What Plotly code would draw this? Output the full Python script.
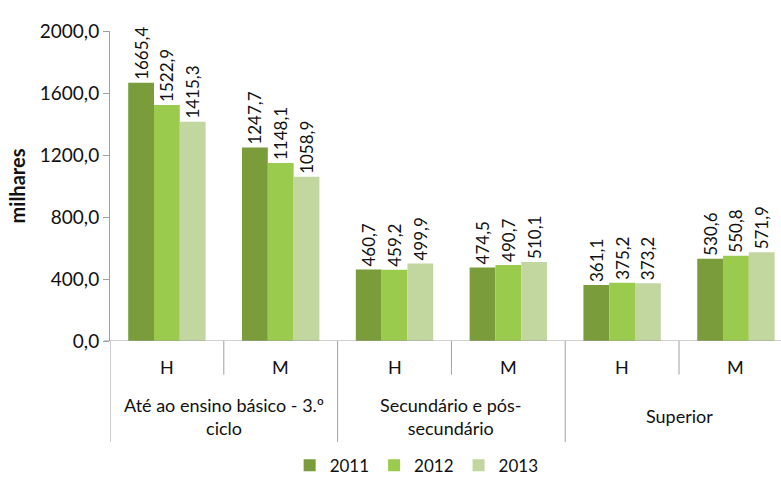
import plotly.graph_objects as go

categories = ["H", "M", "H", "M", "H", "M"]
groups = ["Até ao ensino básico - 3.º<br>ciclo", "Secundário e pós-<br>secundário", "Superior"]
years = ["2011", "2012", "2013"]
v2011 = [1665.4, 1247.7, 460.7, 474.5, 361.1, 530.6]
v2012 = [1522.9, 1148.1, 459.2, 490.7, 375.2, 550.8]
v2013 = [1415.3, 1058.9, 499.9, 510.1, 373.2, 571.9]
series = [v2011, v2012, v2013]
colors = ["#7a9c3b", "#9acb4c", "#c2d6a0"]
yticks = [0, 400, 800, 1200, 1600, 2000]

FONT = "Lato, Carlito, 'Liberation Sans', sans-serif"
x = list(range(len(categories)))

fig = go.Figure()
for name, vals, col in zip(years, series, colors):
    fig.add_trace(go.Bar(
        x=x, y=vals, name=name, marker=dict(color=col, line=dict(width=0)),
        texttemplate="%{y:.1f}", textposition="outside", textangle=-90,
        constraintext="none",
        textfont=dict(size=17, color="#111111", family=FONT), cliponaxis=False,
    ))

# paper-y helpers (plot: top 30.7px, bottom 344px)
H = 313.3
def py(px):
    return (344 - px) / H

shapes = []
line_col = "#a0a0a0"
for i in range(len(categories) + 1):
    xb = i - 0.5
    long = (i % 2 == 0)
    shapes.append(dict(type="line", xref="x", yref="paper", x0=xb, x1=xb,
                       y0=0, y1=py(446) if long else py(378),
                       line=dict(color=line_col, width=1)))

annotations = []
for i, c in enumerate(categories):
    annotations.append(dict(x=i, y=py(370), xref="x", yref="paper", text=c, showarrow=False,
                            font=dict(size=18, color="#111111", family=FONT), yanchor="middle"))
for g, name in enumerate(groups):
    annotations.append(dict(x=2 * g + 0.5, y=py(420), xref="x", yref="paper", text=name,
                            showarrow=False, align="center", yanchor="middle",
                            font=dict(size=18, color="#111111", family=FONT)))

fig.update_layout(
    width=781, height=484,
    margin=dict(l=110, r=0, t=31, b=140),
    paper_bgcolor="white", plot_bgcolor="white",
    barmode="group", bargap=0.32, bargroupgap=0,
    separators=",.",
    font=dict(family=FONT, size=18, color="#111111"),
    showlegend=True,
    legend=dict(orientation="h", x=0.457, xanchor="center", y=py(470), yanchor="middle",
                font=dict(size=17, family=FONT), itemwidth=30, traceorder="normal"),
    xaxis=dict(range=[-0.5, 5.396], showticklabels=False, showgrid=False, zeroline=False,
               showline=False, ticks=""),
    yaxis=dict(range=[0, 2000], tickvals=yticks, tickformat=".1f", showgrid=False,
               zeroline=False, showline=True, linecolor=line_col, linewidth=1,
               ticks="outside", ticklen=6, tickcolor=line_col,
               tickfont=dict(size=19, family=FONT, color="#111111"),
               title=dict(text="<b>milhares</b>", font=dict(size=20, family=FONT), standoff=8)),
    shapes=shapes + [dict(type="line", xref="paper", yref="y", x0=-0.009, x1=1, y0=0, y1=0,
                          line=dict(color=line_col, width=1))],
    annotations=annotations,
)

fig.write_html("out.html")
